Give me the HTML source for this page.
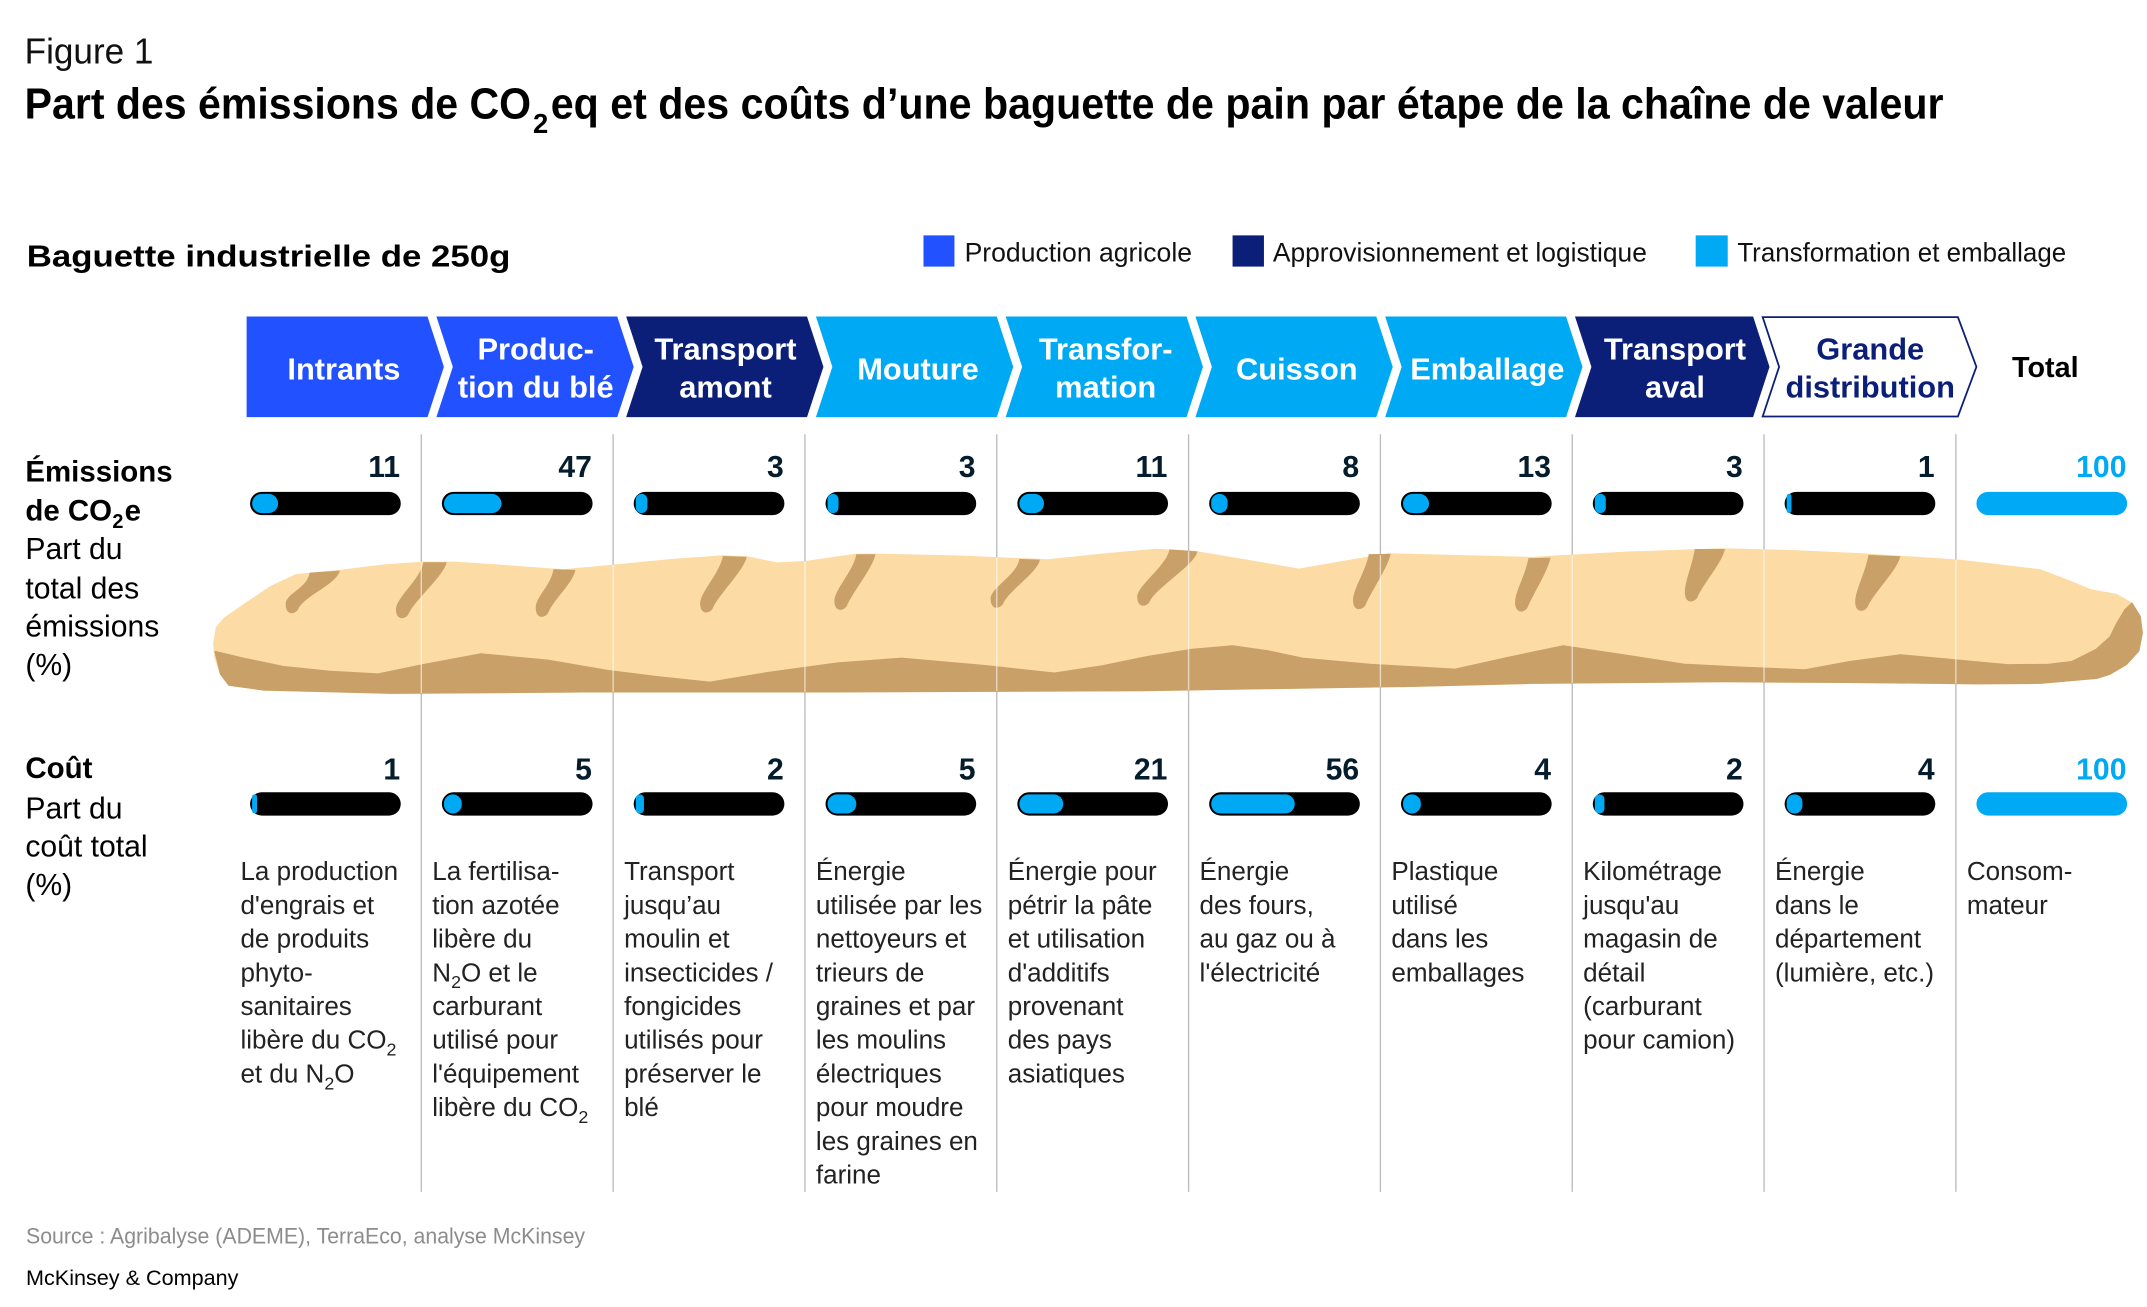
<!DOCTYPE html>
<html>
<head>
<meta charset="utf-8">
<style>
html,body{margin:0;padding:0;background:#fff;}
svg{display:block;}
text{font-family:"Liberation Sans",Arial,sans-serif;}
</style>
</head>
<body>
<svg xmlns="http://www.w3.org/2000/svg" width="2147" height="1307" viewBox="0 0 1567 954" preserveAspectRatio="none">
<rect x="0" y="0" width="1567" height="954" fill="#fff"/>

<!-- Header -->
<text x="18" y="46.2" font-size="26.5" fill="#111" textLength="94" lengthAdjust="spacingAndGlyphs">Figure 1</text>
<text x="18" y="86.4" font-size="31.5" font-weight="bold" fill="#000" textLength="369.6" lengthAdjust="spacingAndGlyphs">Part des émissions de CO</text>
<text x="389" y="97" font-size="20" font-weight="bold" fill="#000">2</text>
<text x="402" y="86.4" font-size="31.5" font-weight="bold" fill="#000" textLength="1016.5" lengthAdjust="spacingAndGlyphs">eq et des coûts d’une baguette de pain par étape de la chaîne de valeur</text>

<text x="19.5" y="194.6" font-size="22" font-weight="bold" fill="#000" textLength="353" lengthAdjust="spacingAndGlyphs">Baguette industrielle de 250g</text>

<!-- Legend -->
<rect x="674" y="171.8" width="22.6" height="22.8" fill="#2251FF"/>
<text x="704" y="191" font-size="19.5" fill="#111" textLength="166" lengthAdjust="spacingAndGlyphs">Production agricole</text>
<rect x="899.6" y="171.8" width="22.9" height="22.8" fill="#0B1F78"/>
<text x="929" y="191" font-size="19.5" fill="#111" textLength="273" lengthAdjust="spacingAndGlyphs">Approvisionnement et logistique</text>
<rect x="1237.6" y="171.8" width="23.4" height="22.8" fill="#00A9F4"/>
<text x="1268" y="191" font-size="19.5" fill="#111" textLength="240" lengthAdjust="spacingAndGlyphs">Transformation et emballage</text>

<!-- Chevrons -->
<polygon points="180,231 312,231 324,267.75 312,304.5 180,304.5" fill="#2251FF"/>
<polygon points="318.5,231 450.5,231 462.5,267.75 450.5,304.5 318.5,304.5 330.5,267.75" fill="#2251FF"/>
<polygon points="457,231 589,231 601,267.75 589,304.5 457,304.5 469,267.75" fill="#0B1F78"/>
<polygon points="595.5,231 727.5,231 739.5,267.75 727.5,304.5 595.5,304.5 607.5,267.75" fill="#00A9F4"/>
<polygon points="734,231 866,231 878,267.75 866,304.5 734,304.5 746,267.75" fill="#00A9F4"/>
<polygon points="872.5,231 1004.5,231 1016.5,267.75 1004.5,304.5 872.5,304.5 884.5,267.75" fill="#00A9F4"/>
<polygon points="1011,231 1143,231 1155,267.75 1143,304.5 1011,304.5 1023,267.75" fill="#00A9F4"/>
<polygon points="1149.5,231 1279.5,231 1291.5,267.75 1279.5,304.5 1149.5,304.5 1161.5,267.75" fill="#0B1F78"/>
<polygon points="1286.5,231.5 1429,231.5 1442.5,267.75 1429,304 1286.5,304 1298.5,267.75" fill="#fff" stroke="#0B1F78" stroke-width="1.3"/>

<g font-size="22.5" font-weight="bold" fill="#fff" text-anchor="middle">
<text x="251" y="277">Intrants</text>
<text x="391" y="262.3">Produc-</text>
<text x="391" y="290.2">tion du blé</text>
<text x="529.5" y="262.3">Transport</text>
<text x="529.5" y="290.2">amont</text>
<text x="670" y="277">Mouture</text>
<text x="807" y="262.3">Transfor-</text>
<text x="807" y="290.2">mation</text>
<text x="946.5" y="277">Cuisson</text>
<text x="1085.5" y="277">Emballage</text>
<text x="1222.5" y="262.3">Transport</text>
<text x="1222.5" y="290.2">aval</text>
<text x="1365" y="262.3" fill="#0B1F78">Grande</text>
<text x="1365" y="290.2" fill="#0B1F78">distribution</text>
</g>
<text x="1468.5" y="275" font-size="21" font-weight="bold" fill="#000">Total</text>

<!-- Divider lines -->
<g stroke="#bdbdbd" stroke-width="1">
<line x1="307.5" y1="317" x2="307.5" y2="870"/>
<line x1="447.5" y1="317" x2="447.5" y2="870"/>
<line x1="587.5" y1="317" x2="587.5" y2="870"/>
<line x1="727.5" y1="317" x2="727.5" y2="870"/>
<line x1="867.5" y1="317" x2="867.5" y2="870"/>
<line x1="1007.5" y1="317" x2="1007.5" y2="870"/>
<line x1="1147.5" y1="317" x2="1147.5" y2="870"/>
<line x1="1287.5" y1="317" x2="1287.5" y2="870"/>
<line x1="1427.5" y1="317" x2="1427.5" y2="870"/>
</g>

<!-- Left labels -->
<g fill="#000">
<text x="18.5" y="351.5" font-size="21.5" font-weight="bold">Émissions</text>
<text x="18.5" y="380" font-size="21.5" font-weight="bold">de CO</text>
<text x="82" y="385.5" font-size="14.5" font-weight="bold">2</text>
<text x="91" y="380" font-size="21.5" font-weight="bold">e</text>
<text x="18.5" y="408.2" font-size="22">Part du</text>
<text x="18.5" y="436.7" font-size="22">total des</text>
<text x="18.5" y="464.7" font-size="22">émissions</text>
<text x="18.5" y="492.7" font-size="22">(%)</text>
<text x="18.5" y="568" font-size="21.5" font-weight="bold">Coût</text>
<text x="18.5" y="597.3" font-size="22">Part du</text>
<text x="18.5" y="625.3" font-size="22">coût total</text>
<text x="18.5" y="653.2" font-size="22">(%)</text>
</g>

<!-- Baguette -->
<defs>
<clipPath id="bodyclip">
<path d="M156,470 L158,458 L164,451 L180,440 L198,428 L216,419.6 L248,416.5 L280,412.5 L309,410.4 L332,410.4 L370,413 L411,416 L444,413 L490,408.5 L527.6,405.8 L545,406.5 L567,411 L588,410 L625,404.6 L639,404.6 L700,406 L765,408.7 L805,404.5 L844,401 L872,402.6 L910,409 L948,415.5 L980,410 L1013,404.3 L1060,405.5 L1117.8,407 L1190,403 L1257,400.7 L1310,402 L1359,404.3 L1430,409 L1489,416 L1510,424 L1526,430.6 L1544.7,434 L1556,440.3 L1562,450 L1563.5,462 L1561,475 L1552,485 L1540,492 L1530.8,495 L1489,498.7 L1442.6,499 L1350,498 L1257,497.5 L1117.8,498.7 L1025,501 L930,502.5 L839,504 L720,504.5 L611,505 L425,505 L285.6,506 L192.5,503.6 L167,500 L161,492 L157,480 Z"/>
</clipPath>
</defs>
<path d="M156,470 L158,458 L164,451 L180,440 L198,428 L216,419.6 L248,416.5 L280,412.5 L309,410.4 L332,410.4 L370,413 L411,416 L444,413 L490,408.5 L527.6,405.8 L545,406.5 L567,411 L588,410 L625,404.6 L639,404.6 L700,406 L765,408.7 L805,404.5 L844,401 L872,402.6 L910,409 L948,415.5 L980,410 L1013,404.3 L1060,405.5 L1117.8,407 L1190,403 L1257,400.7 L1310,402 L1359,404.3 L1430,409 L1489,416 L1510,424 L1526,430.6 L1544.7,434 L1556,440.3 L1562,450 L1563.5,462 L1561,475 L1552,485 L1540,492 L1530.8,495 L1489,498.7 L1442.6,499 L1350,498 L1257,497.5 L1117.8,498.7 L1025,501 L930,502.5 L839,504 L720,504.5 L611,505 L425,505 L285.6,506 L192.5,503.6 L167,500 L161,492 L157,480 Z" fill="#FCDBA5" stroke="#FCDBA5" stroke-width="1" stroke-linejoin="round"/>
<path d="M157,475.6 L180,481 L206.5,486.5 L240,490 L276,492 L310,485 L351,477.3 L400,482 L444,489.5 L480,494 L518,498 L560,491 L611.4,484 L658,480.5 L720,486 L769.6,491.4 L805,486 L839,479 L870,474 L899.6,471.5 L925,475 L950.7,480.5 L1000,485 L1062,488.5 L1100,480 L1141,471.5 L1185,478 L1229,484.9 L1270,487 L1317.3,489 L1350,483 L1387,478 L1430,482 L1466,485.3 L1495,485 L1512,483 L1530,474 L1540,465 L1545,455 L1551,445 L1556,440.3 L1562,450 L1563.5,462 L1561,475 L1552,485 L1540,492 L1530.8,495 L1489,498.7 L1442.6,499 L1350,498 L1257,497.5 L1117.8,498.7 L1025,501 L930,502.5 L839,504 L720,504.5 L611,505 L425,505 L285.6,506 L192.5,503.6 L167,500 L161,492 Z" fill="#C9A067" stroke="#C9A067" stroke-width="1" stroke-linejoin="round"/>
<g fill="#C9A067">
<path d="M226,418 L248,416.5 C246,426.5 221.5,435 217.5,445 C214.5,449 208.5,449 208.5,441 C208.5,433 224,430 226,418Z"/>
<path d="M309,410.4 L326,410.4 C324,420.4 302,438.6 298,448.6 C295,452.6 289,452.6 289,444.6 C289,436.6 307,422.4 309,410.4Z"/>
<path d="M404,415.5 L420,416 C418,426 404,437.6 400,447.6 C397,451.6 391,451.6 391,443.6 C391,435.6 402,427.5 404,415.5Z"/>
<path d="M527.6,405.8 L545,406.5 C543,416.5 524,434.4 520,444.4 C517,448.4 511,448.4 511,440.4 C511,432.4 525.6,417.8 527.6,405.8Z"/>
<path d="M625,404.6 L639,404.6 C637,414.6 622,432.5 618,442.5 C615,446.5 609,446.5 609,438.5 C609,430.5 623,416.6 625,404.6Z"/>
<path d="M744,408 L759,408.5 C757,418.5 736,431 732,441 C729,445 723,445 723,437 C723,429 742,420 744,408Z"/>
<path d="M853.5,401 L874,402.5 C872,412.5 843,429.5 839,439.5 C836,443.5 830,443.5 830,435.5 C830,427.5 851.5,413 853.5,401Z"/>
<path d="M999,404.5 L1015,404.3 C1013,414.3 1000.5,432 996.5,442 C993.5,446 987.5,446 987.5,438 C987.5,430 997,416.5 999,404.5Z"/>
<path d="M1115.5,407.5 L1131.7,407 C1129.7,417 1118.8,433.7 1114.8,443.7 C1111.8,447.7 1105.8,447.7 1105.8,439.7 C1105.8,431.7 1113.5,419.5 1115.5,407.5Z"/>
<path d="M1237,400.7 L1259,400.7 C1257,410.7 1242.7,426.4 1238.7,436.4 C1235.7,440.4 1229.7,440.4 1229.7,432.4 C1229.7,424.4 1235,412.7 1237,400.7Z"/>
<path d="M1363.7,405 L1387,406 C1385,416 1367,433.2 1363,443.2 C1360,447.2 1354,447.2 1354,439.2 C1354,431.2 1361.7,417 1363.7,405Z"/>
</g>
<g clip-path="url(#bodyclip)" stroke="#ffffff" stroke-opacity="0.6" stroke-width="1">
<line x1="307.5" y1="395" x2="307.5" y2="510"/>
<line x1="447.5" y1="395" x2="447.5" y2="510"/>
<line x1="587.5" y1="395" x2="587.5" y2="510"/>
<line x1="727.5" y1="395" x2="727.5" y2="510"/>
<line x1="867.5" y1="395" x2="867.5" y2="510"/>
<line x1="1007.5" y1="395" x2="1007.5" y2="510"/>
<line x1="1147.5" y1="395" x2="1147.5" y2="510"/>
<line x1="1287.5" y1="395" x2="1287.5" y2="510"/>
<line x1="1427.5" y1="395" x2="1427.5" y2="510"/>
</g>

<!-- Emission bars -->
<g fill="#000">
<rect x="182.5" y="359" width="110" height="17" rx="8.5"/>
<rect x="322.5" y="359" width="110" height="17" rx="8.5"/>
<rect x="462.5" y="359" width="110" height="17" rx="8.5"/>
<rect x="602.5" y="359" width="110" height="17" rx="8.5"/>
<rect x="742.5" y="359" width="110" height="17" rx="8.5"/>
<rect x="882.5" y="359" width="110" height="17" rx="8.5"/>
<rect x="1022.5" y="359" width="110" height="17" rx="8.5"/>
<rect x="1162.5" y="359" width="110" height="17" rx="8.5"/>
<rect x="1302.5" y="359" width="110" height="17" rx="8.5"/>
</g>
<g fill="#00A9F4">
<rect x="184" y="360.5" width="19" height="14" rx="7"/>
<rect x="324" y="360.5" width="42" height="14" rx="7"/>
<rect x="464" y="360.5" width="8.5" height="14" rx="4.2"/>
<rect x="604" y="360.5" width="8" height="14" rx="4"/>
<rect x="744" y="360.5" width="18" height="14" rx="7"/>
<rect x="884" y="360.5" width="12" height="14" rx="6"/>
<rect x="1024" y="360.5" width="19" height="14" rx="7"/>
<rect x="1164" y="360.5" width="8" height="14" rx="4"/>
<rect x="1304" y="360.5" width="3.5" height="14" rx="1.75"/>
<rect x="1442.5" y="359" width="110" height="17" rx="8.5"/>
</g>

<!-- Cost bars -->
<g fill="#000">
<rect x="182.5" y="578.3" width="110" height="17" rx="8.5"/>
<rect x="322.5" y="578.3" width="110" height="17" rx="8.5"/>
<rect x="462.5" y="578.3" width="110" height="17" rx="8.5"/>
<rect x="602.5" y="578.3" width="110" height="17" rx="8.5"/>
<rect x="742.5" y="578.3" width="110" height="17" rx="8.5"/>
<rect x="882.5" y="578.3" width="110" height="17" rx="8.5"/>
<rect x="1022.5" y="578.3" width="110" height="17" rx="8.5"/>
<rect x="1162.5" y="578.3" width="110" height="17" rx="8.5"/>
<rect x="1302.5" y="578.3" width="110" height="17" rx="8.5"/>
</g>
<g fill="#00A9F4">
<rect x="184" y="579.8" width="3.6" height="14" rx="1.8"/>
<rect x="324" y="579.8" width="13" height="14" rx="6.5"/>
<rect x="464" y="579.8" width="6" height="14" rx="3"/>
<rect x="604" y="579.8" width="21" height="14" rx="7"/>
<rect x="744" y="579.8" width="32" height="14" rx="7"/>
<rect x="884" y="579.8" width="61" height="14" rx="7"/>
<rect x="1024" y="579.8" width="13" height="14" rx="6.5"/>
<rect x="1164" y="579.8" width="7" height="14" rx="3.5"/>
<rect x="1304" y="579.8" width="11.5" height="14" rx="5.75"/>
<rect x="1442.5" y="578.3" width="110" height="17" rx="8.5"/>
</g>

<!-- Numbers -->
<g font-size="22" font-weight="bold" fill="#051C2C" text-anchor="end">
<text x="292" y="348">11</text>
<text x="432" y="348">47</text>
<text x="572" y="348">3</text>
<text x="712" y="348">3</text>
<text x="852" y="348">11</text>
<text x="992" y="348">8</text>
<text x="1132" y="348">13</text>
<text x="1272" y="348">3</text>
<text x="1412" y="348">1</text>
<text x="1552" y="348" fill="#00A9F4">100</text>
<text x="292" y="569">1</text>
<text x="432" y="569">5</text>
<text x="572" y="569">2</text>
<text x="712" y="569">5</text>
<text x="852" y="569">21</text>
<text x="992" y="569">56</text>
<text x="1132" y="569">4</text>
<text x="1272" y="569">2</text>
<text x="1412" y="569">4</text>
<text x="1552" y="569" fill="#00A9F4">100</text>
</g>

<!-- Descriptions -->
<g font-size="19" fill="#222">
<text x="175.5" y="642.5">La production</text>
<text x="175.5" y="667.1">d'engrais et</text>
<text x="175.5" y="691.7">de produits</text>
<text x="175.5" y="716.3">phyto-</text>
<text x="175.5" y="740.9">sanitaires</text>
<text x="175.5" y="765.5">libère du CO<tspan dy="5" font-size="13">2</tspan></text>
<text x="175.5" y="790.1">et du N<tspan dy="5" font-size="13">2</tspan><tspan dy="-5">O</tspan></text>

<text x="315.5" y="642.5">La fertilisa-</text>
<text x="315.5" y="667.1">tion azotée</text>
<text x="315.5" y="691.7">libère du</text>
<text x="315.5" y="716.3">N<tspan dy="5" font-size="13">2</tspan><tspan dy="-5">O et le</tspan></text>
<text x="315.5" y="740.9">carburant</text>
<text x="315.5" y="765.5">utilisé pour</text>
<text x="315.5" y="790.1">l'équipement</text>
<text x="315.5" y="814.7">libère du CO<tspan dy="5" font-size="13">2</tspan></text>

<text x="455.5" y="642.5">Transport</text>
<text x="455.5" y="667.1">jusqu’au</text>
<text x="455.5" y="691.7">moulin et</text>
<text x="455.5" y="716.3">insecticides /</text>
<text x="455.5" y="740.9">fongicides</text>
<text x="455.5" y="765.5">utilisés pour</text>
<text x="455.5" y="790.1">préserver le</text>
<text x="455.5" y="814.7">blé</text>

<text x="595.5" y="642.5">Énergie</text>
<text x="595.5" y="667.1">utilisée par les</text>
<text x="595.5" y="691.7">nettoyeurs et</text>
<text x="595.5" y="716.3">trieurs de</text>
<text x="595.5" y="740.9">graines et par</text>
<text x="595.5" y="765.5">les moulins</text>
<text x="595.5" y="790.1">électriques</text>
<text x="595.5" y="814.7">pour moudre</text>
<text x="595.5" y="839.3">les graines en</text>
<text x="595.5" y="863.9">farine</text>

<text x="735.5" y="642.5">Énergie pour</text>
<text x="735.5" y="667.1">pétrir la pâte</text>
<text x="735.5" y="691.7">et utilisation</text>
<text x="735.5" y="716.3">d'additifs</text>
<text x="735.5" y="740.9">provenant</text>
<text x="735.5" y="765.5">des pays</text>
<text x="735.5" y="790.1">asiatiques</text>

<text x="875.5" y="642.5">Énergie</text>
<text x="875.5" y="667.1">des fours,</text>
<text x="875.5" y="691.7">au gaz ou à</text>
<text x="875.5" y="716.3">l'électricité</text>

<text x="1015.5" y="642.5">Plastique</text>
<text x="1015.5" y="667.1">utilisé</text>
<text x="1015.5" y="691.7">dans les</text>
<text x="1015.5" y="716.3">emballages</text>

<text x="1155.5" y="642.5">Kilométrage</text>
<text x="1155.5" y="667.1">jusqu'au</text>
<text x="1155.5" y="691.7">magasin de</text>
<text x="1155.5" y="716.3">détail</text>
<text x="1155.5" y="740.9">(carburant</text>
<text x="1155.5" y="765.5">pour camion)</text>

<text x="1295.5" y="642.5">Énergie</text>
<text x="1295.5" y="667.1">dans le</text>
<text x="1295.5" y="691.7">département</text>
<text x="1295.5" y="716.3">(lumière, etc.)</text>

<text x="1435.5" y="642.5">Consom-</text>
<text x="1435.5" y="667.1">mateur</text>
</g>

<!-- Footer -->
<text x="19" y="907.5" font-size="16.5" fill="#8c8c8c" textLength="408" lengthAdjust="spacingAndGlyphs">Source : Agribalyse (ADEME), TerraEco, analyse McKinsey</text>
<text x="19" y="938" font-size="15.5" fill="#000" textLength="155" lengthAdjust="spacingAndGlyphs">McKinsey &amp; Company</text>
</svg>
</body>
</html>
